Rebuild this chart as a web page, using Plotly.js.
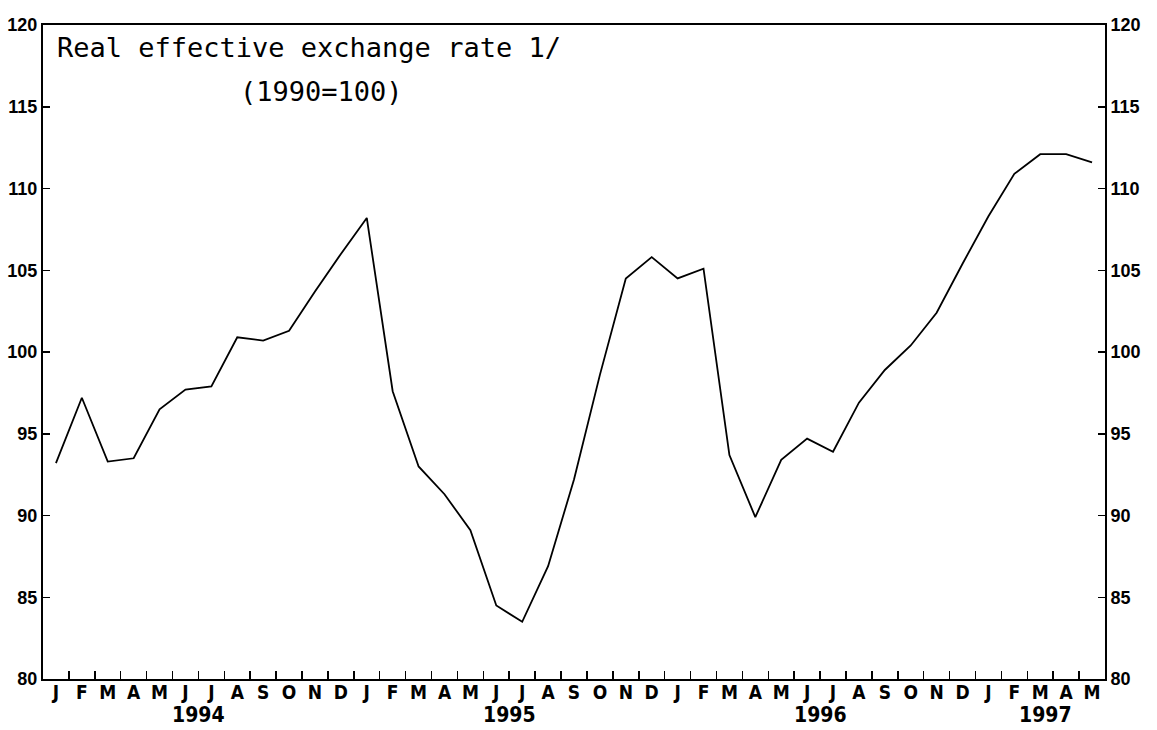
<!DOCTYPE html>
<html>
<head>
<meta charset="utf-8">
<script src="https://cdn.plot.ly/plotly-3.0.1.min.js"></script>
<style>html,body{margin:0;padding:0;background:#fff;}#chart{width:1157px;height:730px;}</style>
</head>
<body>
<div id="chart"></div>
<script>
const monthLabels = ["J","F","M","A","M","J","J","A","S","O","N","D",
                     "J","F","M","A","M","J","J","A","S","O","N","D",
                     "J","F","M","A","M","J","J","A","S","O","N","D",
                     "J","F","M","A","M"];
const reer = [93.2, 97.2, 93.3, 93.5, 96.5, 97.7, 97.9, 100.9, 100.7, 101.3, 103.7, 106.0,
              108.2, 97.6, 93.0, 91.3, 89.1, 84.5, 83.5, 86.9, 92.2, 98.6, 104.5, 105.8,
              104.5, 105.1, 93.7, 89.9, 93.4, 94.7, 93.9, 96.9, 98.9, 100.4, 102.4, 105.4,
              108.3, 110.9, 112.1, 112.1, 111.6];
const yearLabels = ["1994", "1995", "1996", "1997"];
const yearPositions = [5.5, 17.5, 29.5, 38.2];
const yTicks = [80, 85, 90, 95, 100, 105, 110, 115, 120];
const titleLines = ["Real effective exchange rate 1/", "(1990=100)"];

const idx = monthLabels.map((_, i) => i);
const boundaries = idx.slice(0, -1).map(i => i + 0.5);

const numFont = {family: "Liberation Sans, Arial, sans-serif", size: 18, color: "#000", weight: "bold"};
const monFont = {family: "Liberation Sans Narrow, DejaVu Sans Condensed, Arial Narrow, sans-serif", size: 19, color: "#000", weight: "bold"};
const yearFont = {family: "Liberation Sans Narrow, DejaVu Sans Condensed, Arial Narrow, sans-serif", size: 21, color: "#000", weight: "bold"};
const titleFont = {family: "DejaVu Sans Mono, Liberation Mono, monospace", size: 27, color: "#000"};

const traces = [
  {x: idx, y: reer, type: "scatter", mode: "lines", xaxis: "x", yaxis: "y",
   line: {color: "#000", width: 1.8}, hoverinfo: "skip", showlegend: false},
  {x: idx, y: reer, type: "scatter", mode: "lines", xaxis: "x2", yaxis: "y2",
   line: {color: "rgba(0,0,0,0)", width: 0}, hoverinfo: "skip", showlegend: false}
];

const layout = {
  width: 1157, height: 730,
  margin: {l: 43, r: 52, t: 25, b: 51},
  paper_bgcolor: "#fff", plot_bgcolor: "#fff",
  showlegend: false,
  xaxis: {
    range: [-0.5, 40.5], tickvals: boundaries, showticklabels: false,
    ticks: "inside", ticklen: 8, tickwidth: 1.5, tickcolor: "#000",
    showline: true, linecolor: "#000", linewidth: 2, mirror: true,
    showgrid: false, zeroline: false
  },
  xaxis2: {
    overlaying: "x", side: "bottom", anchor: "y",
    range: [-0.5, 40.5], tickvals: idx, ticktext: monthLabels,
    ticks: "", tickfont: monFont, showline: false, showgrid: false, zeroline: false
  },
  yaxis: {
    range: [80, 120], tickvals: yTicks, ticktext: yTicks.map(String),
    ticks: "inside", ticklen: 7, tickwidth: 1.5, tickcolor: "#000",
    tickfont: numFont, showline: true, linecolor: "#000", linewidth: 2,
    showgrid: false, zeroline: false
  },
  yaxis2: {
    overlaying: "y", side: "right", anchor: "x",
    range: [80, 120], tickvals: yTicks, ticktext: yTicks.map(String),
    ticks: "inside", ticklen: 7, tickwidth: 1.5, tickcolor: "#000",
    tickfont: numFont, showline: true, linecolor: "#000", linewidth: 2,
    showgrid: false, zeroline: false
  },
  annotations: [
    {text: titleLines[0], xref: "paper", yref: "paper",
     x: 0.0113, y: 0.965, xanchor: "left", yanchor: "middle", showarrow: false, font: titleFont},
    {text: titleLines[1], xref: "paper", yref: "paper",
     x: 0.1836, y: 0.899, xanchor: "left", yanchor: "middle", showarrow: false, font: titleFont}
  ].concat(yearLabels.map((t, k) => ({
    text: t, xref: "x", yref: "paper", x: yearPositions[k], y: -0.055,
    xanchor: "center", yanchor: "middle", showarrow: false, font: yearFont
  })))
};

Plotly.newPlot("chart", traces, layout, {displayModeBar: false, staticPlot: true});
</script>
</body>
</html>
